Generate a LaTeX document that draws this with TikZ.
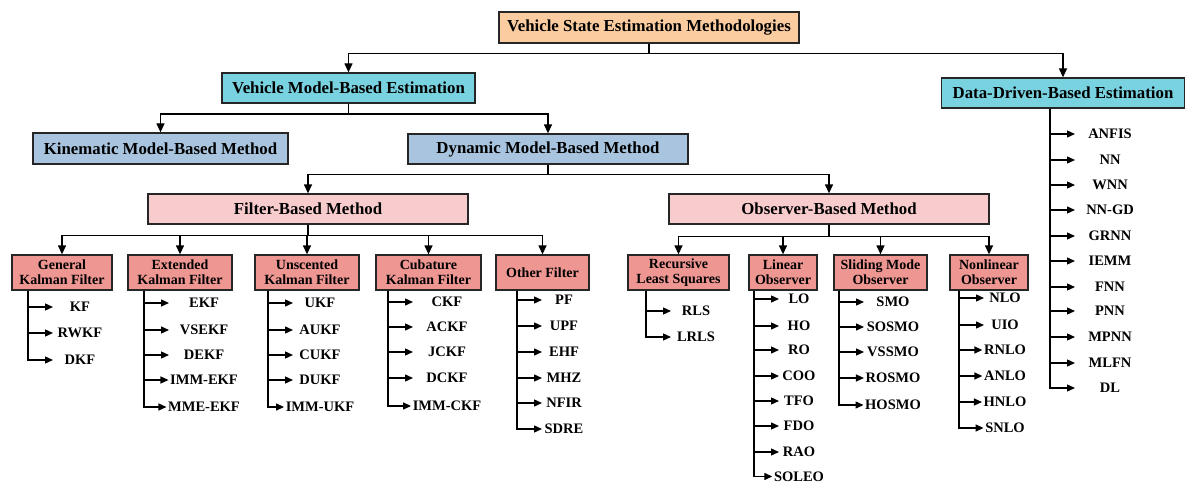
\documentclass[tikz,border=0pt]{standalone}
\usepackage{fontspec}
\setmainfont{Liberation Serif}
\usetikzlibrary{arrows.meta,calc}
\definecolor{cpeach}{RGB}{250,204,160}
\definecolor{ccyan}{RGB}{120,210,224}
\definecolor{csteel}{RGB}{168,196,222}
\definecolor{cpink}{RGB}{248,204,204}
\definecolor{csalmon}{RGB}{238,150,146}
\tikzset{
  bigbox/.style={draw=black!85, line width=1.3pt, inner sep=0pt, align=center,
    font=\bfseries\fontsize{16.8}{18}\selectfont},
  smallbox/.style={draw=black!85, line width=1.3pt, inner sep=0pt, align=center,
    fill=csalmon, minimum height=35, font=\bfseries\fontsize{14}{15}\selectfont},
  leaf/.style={inner sep=0pt, font=\bfseries\fontsize{14.5}{15}\selectfont},
  arr/.style={-{Triangle[length=9pt,width=8pt]}, line width=1.3pt},
  leafarr/.style={-{Triangle[length=8pt,width=7pt]}, line width=1.3pt},
}
\newcommand\leafgroup[4]{%
  \coordinate (#1-top) at (#1.south -| #2,0);
  \foreach \yy/\lab [count=\i] in {#4} {
    \node[leaf] (#1-l\i) at (#3,\yy) {\lab};
    \path let \p1=(#1-l\i.west) in coordinate (#1-t\i) at ({min(#2+25,\x1-1.5)},\yy);
    \draw[leafarr] (#1-top) |- (#1-t\i);
  }%
}
\begin{document}
\begin{tikzpicture}[x=1pt,y=-1pt]
\useasboundingbox (0,0) rectangle (1186,484);
\fill[white] (0,0) rectangle (1186,484);

% level 1
\node[bigbox, fill=cpeach, minimum width=300, minimum height=31] (root) at (649,27.5) {Vehicle State Estimation Methodologies};
% level 2
\node[bigbox, fill=ccyan, minimum width=253, minimum height=30] (vmb) at (348.5,88) {Vehicle Model-Based Estimation};
\node[bigbox, fill=ccyan, minimum width=243, minimum height=30] (ddb) at (1063,93) {Data-Driven-Based Estimation};
% level 3
\node[bigbox, fill=csteel, minimum width=255, minimum height=31] (kin) at (160.5,148.5) {Kinematic Model-Based Method};
\node[bigbox, fill=csteel, minimum width=280, minimum height=30] (dyn) at (548,149) {Dynamic Model-Based Method};
% level 4
\node[bigbox, fill=cpink, minimum width=320, minimum height=30] (filt) at (308,209) {Filter-Based Method};
\node[bigbox, fill=cpink, minimum width=320, minimum height=30] (obs) at (829,209) {Observer-Based Method};
% level 5
\node[smallbox, minimum width=100] (gkf) at (62,272.5) {General\\Kalman Filter};
\node[smallbox, minimum width=104] (ekf) at (180,272.5) {Extended\\Kalman Filter};
\node[smallbox, minimum width=104] (ukf) at (307,272.5) {Unscented\\Kalman Filter};
\node[smallbox, minimum width=105] (ckf) at (428.5,272.5) {Cubature\\Kalman Filter};
\node[smallbox, minimum width=93] (oth) at (542.5,272.5) {Other Filter};
\node[smallbox, minimum width=101] (rls) at (678.5,272.5) {Recursive\\Least Squares};
\node[smallbox, minimum width=68] (lin) at (783,272.5) {Linear\\Observer};
\node[smallbox, minimum width=93] (smo) at (880.5,272.5) {Sliding Mode\\Observer};
\node[smallbox, minimum width=78] (nlo) at (989,272.5) {Nonlinear\\Observer};

% tree connectors
\draw[arr] (root.south) -- ++(0,10) -| (vmb.north);
\draw[arr] (root.south) -- ++(0,10) -| (ddb.north);
\draw[arr] (vmb.south) -- ++(0,10.5) -| (kin.north);
\draw[arr] (vmb.south) -- ++(0,10.5) -| (dyn.north);
\draw[arr] (dyn.south) -- ++(0,9.5) -| (filt.north);
\draw[arr] (dyn.south) -- ++(0,9.5) -| (obs.north);
\foreach \n in {gkf,ekf,ukf,ckf,oth}
  \draw[arr] (filt.south) -- ++(0,10.5) -| (\n.north);
\foreach \n in {rls,lin,smo,nlo}
  \draw[arr] (obs.south) -- ++(0,11.5) -| (\n.north);

% leaves
\leafgroup{gkf}{28}{80}{307/KF,333/RWKF,360/DKF}
\leafgroup{ekf}{144}{204}{303/EKF,330/VSEKF,355/DEKF,380/IMM-EKF,407/MME-EKF}
\leafgroup{ukf}{268}{320}{303/UKF,330/AUKF,355/CUKF,380/DUKF,407/IMM-UKF}
\leafgroup{ckf}{388}{447}{302/CKF,327/ACKF,352/JCKF,378/DCKF,406/IMM-CKF}
\leafgroup{oth}{517}{564}{300/PF,326/UPF,352/EHF,378/MHZ,403/NFIR,429/SDRE}
\leafgroup{rls}{646}{696}{311/RLS,337/LRLS}
\leafgroup{lin}{754}{799}{299/LO,326/HO,350/RO,376/COO,401/TFO,426/FDO,452/RAO,476.5/SOLEO}
\leafgroup{smo}{839}{893}{302/SMO,327/SOSMO,352/VSSMO,378/ROSMO,405/HOSMO}
\leafgroup{nlo}{959}{1005}{298/NLO,325/UIO,350/RNLO,376/ANLO,402/HNLO,428/SNLO}
\leafgroup{ddb}{1050}{1110}{134/ANFIS,160/NN,185/WNN,210/NN-GD,236/GRNN,261/IEMM,287/FNN,311/PNN,337/MPNN,363/MLFN,388/DL}
\end{tikzpicture}
\end{document}
